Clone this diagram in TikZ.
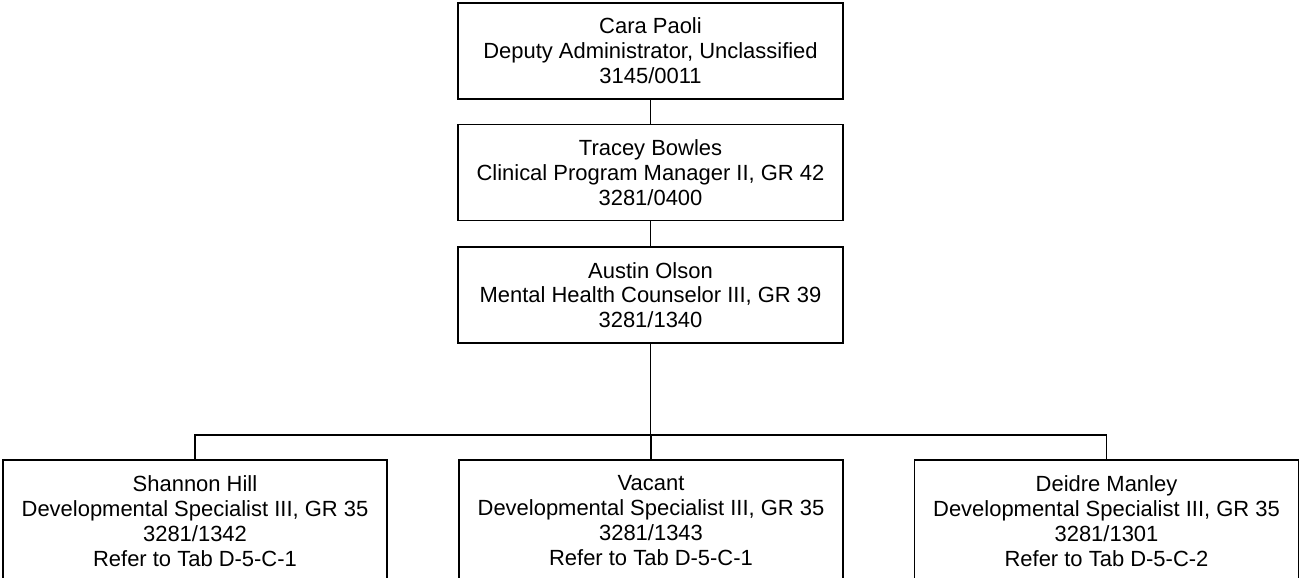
\documentclass[tikz,border=0pt]{standalone}
\usepackage{fontspec}
\setmainfont{Liberation Sans}
\usetikzlibrary{positioning}

\begin{document}
\begin{tikzpicture}[
    x=0.02cm, y=-0.02cm,
    every node/.style={font=\fontsize{12.5}{14.2}\selectfont},
    % 职位框
    post/.style={
        draw, line width=0.9pt, align=center, inner sep=0pt,
        minimum width=7.7cm, minimum height=1.92cm
    },
    % 下级职位框
    staff/.style={
        post, anchor=north, minimum width=7.68cm, minimum height=2.44cm
    },
    % 连线
    edge/.style={-, line width=0.9pt},
]
\useasboundingbox (0,0) rectangle (1299,578);

%% -- 上级链 ------------------------------------------
\node[post] (cara) at (650.5, 51)
    {Cara Paoli\\Deputy Administrator, Unclassified\\3145/0011};
\node[post, below=0.48cm of cara] (tracey)
    {Tracey Bowles\\Clinical Program Manager II, GR 42\\3281/0400};
\node[post, below=0.5cm of tracey] (austin)
    {Austin Olson\\Mental Health Counselor III, GR 39\\3281/1340};

%% -- 下级职位 ----------------------------------------
\node[staff] (shannon) at (195, 459)
    {Shannon Hill\\Developmental Specialist III, GR 35\\3281/1342\\Refer to Tab D-5-C-1};
\node[staff] (vacant) at (651, 459)
    {Vacant\\Developmental Specialist III, GR 35\\3281/1343\\Refer to Tab D-5-C-1};
\node[staff] (deidre) at (1106.5, 459)
    {Deidre Manley\\Developmental Specialist III, GR 35\\3281/1301\\Refer to Tab D-5-C-2};

%% -- 连线 --------------------------------------------
\coordinate (bus) at (651, 435);

\draw[edge] (cara) -- (tracey);
\draw[edge] (tracey) -- (austin);
\draw[edge] (austin.south) -- (austin.south |- bus);
\draw[edge] (shannon.north) |- (bus) -| (deidre.north);
\draw[edge] (vacant.north) -- (vacant.north |- bus);

\end{tikzpicture}
\end{document}
